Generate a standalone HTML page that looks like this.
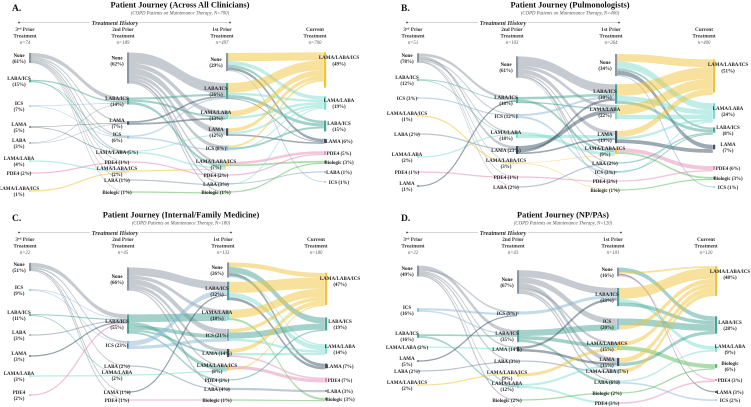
<!DOCTYPE html>
<html><head><meta charset="utf-8">
<style>
html,body{margin:0;padding:0;background:#fff;}
svg{display:block;font-family:"Liberation Serif",serif;}
.lbl{font-size:5px;font-weight:bold;fill:#222;}
.hdr{font-size:5.2px;font-weight:bold;fill:#333;}
.nn{font-size:4.8px;font-style:italic;fill:#555;}
.ttl{font-size:8.4px;font-weight:bold;fill:#111;}
.sub{font-size:4.8px;font-style:italic;fill:#555;}
.th{font-size:6.2px;font-style:italic;font-weight:bold;fill:#333;}
.let{font-size:9.5px;font-weight:bold;fill:#111;}
</style></head>
<body>
<svg id="chart" width="751" height="407" viewBox="0 0 751 407"></svg>
<script>
// ===== Panel A data =====
const A_title = "Patient Journey (Across All Clinicians)";
const A_N = 700;
const A_n = [74, 189, 497, 700];
const A_names = [
 ["None","LABA/ICS","ICS","LAMA","LABA","LAMA/LABA","PDE4","LAMA/LABA/ICS"],
 ["None","LABA/ICS","LAMA","ICS","LAMA/LABA","PDE4","LAMA/LABA/ICS","LABA","Biologic"],
 ["None","LABA/ICS","LAMA/LABA","LAMA","ICS","LAMA/LABA/ICS","PDE4","LABA","Biologic"],
 ["LAMA/LABA/ICS","LAMA/LABA","LABA/ICS","LAMA","PDE4","Biologic","LABA","ICS"]];
const A_pcts = [[61,15,7,5,3,4,2,1],[62,14,7,6,5,1,2,1,1],[29,26,13,12,8,7,2,3,1],[49,19,15,6,5,3,1,1]];
const A_links = [
 [0,"None","LABA/ICS",40],[0,"None","LAMA",15],[0,"None","ICS",15],[0,"None","LAMA/LABA",10],[0,"None","PDE4",5],[0,"None","LAMA/LABA/ICS",5],[0,"None","LABA",5],[0,"None","Biologic",5],
 [0,"LABA/ICS","LABA/ICS",50],[0,"LABA/ICS","LAMA/LABA",30],[0,"LABA/ICS","ICS",20],[0,"ICS","LABA/ICS",60],[0,"ICS","ICS",40],
 [0,"LAMA","LAMA",50],[0,"LAMA","LAMA/LABA",50],[0,"LABA","LABA/ICS",50],[0,"LABA","LAMA",50],[0,"LAMA/LABA","LAMA/LABA/ICS",100],[0,"PDE4","PDE4",100],[0,"LAMA/LABA/ICS","LAMA/LABA/ICS",100],
 [1,"None","LABA/ICS",35],[1,"None","LAMA/LABA",15],[1,"None","LAMA",20],[1,"None","ICS",12],[1,"None","LAMA/LABA/ICS",8],[1,"None","LABA",4],[1,"None","PDE4",3],[1,"None","Biologic",3],
 [1,"LABA/ICS","LABA/ICS",30],[1,"LABA/ICS","LAMA/LABA",30],[1,"LABA/ICS","LAMA/LABA/ICS",40],[1,"LAMA","LABA/ICS",50],[1,"LAMA","LAMA/LABA",50],[1,"ICS","LABA/ICS",50],[1,"ICS","ICS",50],
 [1,"LAMA/LABA","LAMA",40],[1,"LAMA/LABA","LAMA/LABA/ICS",60],[1,"PDE4","PDE4",100],[1,"LAMA/LABA/ICS","LAMA/LABA/ICS",100],[1,"LABA","LABA",100],[1,"Biologic","Biologic",100],
 [2,"None","LAMA/LABA/ICS",45],[2,"None","LAMA/LABA",20],[2,"None","LABA/ICS",15],[2,"None","LAMA",15],[2,"None","ICS",5],
 [2,"LABA/ICS","LAMA/LABA/ICS",60],[2,"LABA/ICS","LAMA/LABA",15],[2,"LABA/ICS","LABA/ICS",20],[2,"LABA/ICS","LAMA",5],
 [2,"LAMA/LABA","LAMA/LABA/ICS",70],[2,"LAMA/LABA","LAMA/LABA",30],[2,"LAMA","LAMA/LABA/ICS",50],[2,"LAMA","LAMA/LABA",30],[2,"LAMA","LAMA",20],
 [2,"ICS","LAMA/LABA/ICS",40],[2,"ICS","LABA/ICS",40],[2,"ICS","LAMA/LABA",20],[2,"LAMA/LABA/ICS","PDE4",60],[2,"LAMA/LABA/ICS","Biologic",40],
 [2,"PDE4","PDE4",100],[2,"LABA","LABA",50],[2,"LABA","LAMA/LABA",50],[2,"Biologic","Biologic",100]];

// ===== Panel B data =====
const B_title = "Patient Journey (Pulmonologists)";
const B_N = 400;
const B_n = [51, 103, 264, 400];
const B_names = [
 ["None","LABA/ICS","ICS","LAMA/LABA/ICS","LABA","LAMA/LABA","PDE4","LAMA"],
 ["None","LABA/ICS","ICS","LAMA/LABA","LAMA","LAMA/LABA/ICS","PDE4","LABA"],
 ["None","LABA/ICS","LAMA/LABA","LAMA","LAMA/LABA/ICS","LABA","ICS","PDE4","Biologic"],
 ["LAMA/LABA/ICS","LAMA/LABA","LABA/ICS","LAMA","PDE4","Biologic","ICS"]];
const B_pcts = [[78,12,3,1,2,2,1,1],[61,18,12,18,23,3,1,2],[34,30,22,19,9,2,3,2,1],[51,24,8,7,6,3,1]];
const B_links = [
 [0,"None","LABA/ICS",30],[0,"None","LAMA",30],[0,"None","ICS",10],[0,"None","LAMA/LABA",15],[0,"None","LAMA/LABA/ICS",5],[0,"None","PDE4",5],[0,"None","LABA",5],
 [0,"LABA/ICS","LABA/ICS",60],[0,"LABA/ICS","LAMA/LABA",40],[0,"ICS","ICS",100],[0,"LAMA/LABA/ICS","LAMA/LABA/ICS",100],[0,"LABA","LAMA",100],[0,"LAMA/LABA","LAMA/LABA",100],[0,"PDE4","PDE4",100],[0,"LAMA","LABA/ICS",100],
 [1,"None","LABA/ICS",45],[1,"None","LAMA/LABA",15],[1,"None","LAMA",20],[1,"None","LAMA/LABA/ICS",8],[1,"None","ICS",5],[1,"None","LABA",4],[1,"None","PDE4",3],
 [1,"LABA/ICS","LABA/ICS",40],[1,"LABA/ICS","LAMA/LABA/ICS",40],[1,"LABA/ICS","LAMA/LABA",20],[1,"ICS","LABA/ICS",50],[1,"ICS","ICS",50],
 [1,"LAMA/LABA","LAMA/LABA/ICS",50],[1,"LAMA/LABA","LAMA",50],[1,"LAMA","LAMA/LABA",50],[1,"LAMA","LABA/ICS",30],[1,"LAMA","LAMA",20],
 [1,"LAMA/LABA/ICS","LAMA/LABA/ICS",50],[1,"LAMA/LABA/ICS","Biologic",50],[1,"PDE4","PDE4",100],[1,"LABA","LABA",100],
 [2,"None","LAMA/LABA/ICS",35],[2,"None","LAMA/LABA",30],[2,"None","LABA/ICS",10],[2,"None","LAMA",20],[2,"None","ICS",5],
 [2,"LABA/ICS","LAMA/LABA/ICS",60],[2,"LABA/ICS","LAMA/LABA",25],[2,"LABA/ICS","LABA/ICS",15],
 [2,"LAMA/LABA","LAMA/LABA/ICS",70],[2,"LAMA/LABA","LAMA/LABA",30],[2,"LAMA","LAMA/LABA/ICS",50],[2,"LAMA","LAMA/LABA",20],[2,"LAMA","LAMA",30],
 [2,"LAMA/LABA/ICS","PDE4",70],[2,"LAMA/LABA/ICS","Biologic",30],[2,"LABA","LABA/ICS",100],[2,"ICS","LABA/ICS",50],[2,"ICS","LAMA/LABA",50],[2,"PDE4","PDE4",100],[2,"Biologic","Biologic",100]];

// ===== Panel C data =====
const C_title = "Patient Journey (Internal/Family Medicine)";
const C_N = 180;
const C_n = [22, 45, 133, 180];
const C_names = [
 ["None","ICS","LABA/ICS","LABA","LAMA","LAMA/LABA","PDE4"],
 ["None","LABA/ICS","ICS","LABA","LAMA/LABA","LAMA","PDE4"],
 ["None","LABA/ICS","LAMA/LABA","ICS","LAMA","LAMA/LABA/ICS","PDE4","LABA","Biologic"],
 ["LAMA/LABA/ICS","LABA/ICS","LAMA/LABA","LAMA","PDE4","LABA","Biologic"]];
const C_pcts = [[51,9,11,3,3,3,2],[66,55,23,2,2,1,1],[26,32,18,21,14,8,2,4,1],[47,19,14,7,7,3,3]];
const C_links = [
 [0,"None","LABA/ICS",50],[0,"None","ICS",20],[0,"None","LAMA",10],[0,"None","LABA",10],[0,"None","PDE4",10],
 [0,"ICS","LABA/ICS",50],[0,"ICS","ICS",50],[0,"LABA/ICS","LABA/ICS",60],[0,"LABA/ICS","LAMA/LABA",40],[0,"LABA","LABA/ICS",100],[0,"LAMA","LABA/ICS",100],[0,"LAMA/LABA","LAMA/LABA",100],[0,"PDE4","LABA/ICS",100],
 [1,"None","LABA/ICS",35],[1,"None","LAMA/LABA",15],[1,"None","ICS",25],[1,"None","LAMA",15],[1,"None","LAMA/LABA/ICS",5],[1,"None","LABA",5],
 [1,"LABA/ICS","LAMA/LABA",40],[1,"LABA/ICS","LAMA/LABA/ICS",20],[1,"LABA/ICS","ICS",20],[1,"LABA/ICS","LAMA",10],[1,"LABA/ICS","PDE4",10],
 [1,"ICS","LABA/ICS",60],[1,"ICS","ICS",40],[1,"LABA","LABA",100],[1,"LAMA/LABA","LAMA/LABA/ICS",100],[1,"LAMA","LABA/ICS",100],[1,"PDE4","Biologic",100],
 [2,"None","LAMA/LABA/ICS",30],[2,"None","LABA/ICS",40],[2,"None","LAMA",20],[2,"None","LAMA/LABA",10],
 [2,"LABA/ICS","LAMA/LABA/ICS",60],[2,"LABA/ICS","LAMA/LABA",25],[2,"LABA/ICS","LAMA",15],
 [2,"LAMA/LABA","LAMA/LABA/ICS",80],[2,"LAMA/LABA","Biologic",20],[2,"ICS","LAMA/LABA/ICS",30],[2,"ICS","LABA/ICS",50],[2,"ICS","LAMA/LABA",20],
 [2,"LAMA","LAMA/LABA/ICS",50],[2,"LAMA","LAMA/LABA",30],[2,"LAMA","PDE4",20],[2,"LAMA/LABA/ICS","PDE4",70],[2,"LAMA/LABA/ICS","LAMA/LABA/ICS",30],
 [2,"PDE4","LABA/ICS",100],[2,"LABA","LABA",100],[2,"Biologic","Biologic",100]];

// ===== Panel D data =====
const D_title = "Patient Journey (NP/PAs)";
const D_N = 120;
const D_n = [22, 43, 101, 120];
const D_names = [
 ["None","ICS","LABA/ICS","LAMA/LABA","LAMA","LABA","LAMA/LABA/ICS"],
 ["None","ICS","LABA/ICS","LAMA","LABA","LAMA/LABA/ICS","LAMA/LABA","Biologic"],
 ["None","LABA/ICS","ICS","LAMA/LABA/ICS","LAMA","LAMA/LABA","LABA","Biologic","PDE4"],
 ["LAMA/LABA/ICS","LABA/ICS","LAMA/LABA","Biologic","PDE4","LAMA","ICS"]];
const D_pcts = [[49,16,16,2,5,2,2],[67,9,35,14,3,9,12,2],[16,33,20,15,15,7,6,2,3],[48,28,9,6,3,3,2]];
const D_links = [
 [0,"None","LABA/ICS",35],[0,"None","ICS",15],[0,"None","LAMA",15],[0,"None","LABA",10],[0,"None","LAMA/LABA",15],[0,"None","Biologic",10],
 [0,"ICS","ICS",60],[0,"ICS","LABA/ICS",40],[0,"LABA/ICS","LABA/ICS",50],[0,"LABA/ICS","LAMA/LABA",50],[0,"LAMA/LABA","LAMA",100],[0,"LAMA","ICS",100],[0,"LABA","LABA",100],[0,"LAMA/LABA/ICS","LAMA/LABA/ICS",100],
 [1,"None","LABA/ICS",30],[1,"None","ICS",25],[1,"None","LAMA",20],[1,"None","LAMA/LABA/ICS",10],[1,"None","LAMA/LABA",10],[1,"None","LABA",5],
 [1,"ICS","LABA/ICS",100],[1,"LABA/ICS","ICS",50],[1,"LABA/ICS","LAMA/LABA/ICS",30],[1,"LABA/ICS","LABA",20],[1,"LAMA","LABA/ICS",50],[1,"LAMA","LAMA",50],
 [1,"LABA","LAMA/LABA",100],[1,"LAMA/LABA/ICS","LAMA/LABA/ICS",100],[1,"LAMA/LABA","LAMA",50],[1,"LAMA/LABA","PDE4",50],[1,"Biologic","Biologic",100],
 [2,"None","LABA/ICS",50],[2,"None","LAMA/LABA/ICS",20],[2,"None","LAMA",15],[2,"None","PDE4",15],
 [2,"LABA/ICS","LAMA/LABA/ICS",60],[2,"LABA/ICS","LAMA/LABA",20],[2,"LABA/ICS","LABA/ICS",20],[2,"ICS","LABA/ICS",60],[2,"ICS","LAMA/LABA/ICS",40],
 [2,"LAMA/LABA/ICS","LAMA/LABA/ICS",50],[2,"LAMA/LABA/ICS","Biologic",50],[2,"LAMA","LAMA/LABA/ICS",60],[2,"LAMA","LABA/ICS",40],
 [2,"LAMA/LABA","LAMA/LABA/ICS",100],[2,"LABA","LAMA/LABA",50],[2,"LABA","ICS",50],[2,"Biologic","Biologic",100],[2,"PDE4","PDE4",100]];

// ===== Layout (positions, not data) =====
const A_layout = {ox:0, oy:0, barX:[30,128,227,325], scale:[0.165,0.5,0.62,0.72], dy:0, tx:180, letX:12, thX:115,
 yc:[[58,81,106,127,143,161,173,191],[68,101,123,137,152,162,171,180,192],[62,91,115,132,148,164,175,184,192],[70,103,126,141,153,162,172,182]],
 one:["0:6","1:4","1:5","1:7","1:8","2:4","2:6","2:7","2:8","3:3","3:4","3:5","3:6","3:7"]};
const B_layout = {ox:375, oy:0, barX:[43,142,241,339], scale:[0.12,0.35,0.65,0.65], dy:0, tx:195, letX:26, thX:128,
 yc:[[58,80,98,116,134,157,172,186],[67,100,116,135,150,163,177,187],[65,94,112,137,151,163,172,181,190],[76,111,130,147,168,178,187]],
 one:["0:2","0:4","0:6","1:2","1:4","1:6","1:7","2:5","2:6","2:7","2:8","3:4","3:5","3:6"]};
const C_layout = {ox:0, oy:203, barX:[30,128,228,326], scale:[0.16,0.35,0.58,0.68], dy:7, tx:181, letX:12, thX:115,
 yc:[[64,87,112,132,153,173,192],[76,121,142,163,172,189,197],[67,88,112,132,150,165,177,186,197],[86,121,146,163,177,188,196]],
 one:["1:2","1:3","1:5","1:6","2:3","2:4","2:6","2:7","2:8","3:3","3:4","3:5","3:6"]};
const D_layout = {ox:375, oy:203, barX:[43,143,243,341], scale:[0.22,0.35,0.55,0.62], dy:7, tx:188, letX:26, thX:128,
 yc:[[68,107,133,144,158,168,182],[79,110,133,146,158,172,183,197],[69,94,121,143,159,168,179,190,200],[78,122,146,163,177,189,197]],
 one:["0:3","0:5","1:1","1:3","1:4","1:7","2:5","2:6","2:7","2:8","3:4","3:5","3:6"]};

const COLORS = {"None":"#8d97a3","LABA/ICS":"#4aa596","ICS":"#8db7d6","LAMA":"#3e5465","LABA":"#7f95ab",
 "LAMA/LABA":"#7fdcd0","PDE4":"#e48db8","LAMA/LABA/ICS":"#f0c43a","Biologic":"#5cbc5c"};

const NS = "http://www.w3.org/2000/svg";
const svg = document.getElementById("chart");
function mk(tag, attrs, parent){ const e=document.createElementNS(NS,tag); for(const k in attrs) e.setAttribute(k,attrs[k]); parent.appendChild(e); return e; }
function slug(s){ return s.toLowerCase().replace(/[^a-z0-9]+/g,"-").replace(/^-|-$/g,""); }

function drawPanel(key, title, N, nArr, names, pcts, links, L){
  const g = mk("g",{transform:`translate(${L.ox},${L.oy})`}, svg);
  
  
  const d = L.dy;
  const let_ = mk("text",{x:L.letX,y:11+d,class:"let"},g); let_.textContent = key+".";
  
  
  const t = mk("text",{x:L.tx,y:7.5+d,class:"ttl","text-anchor":"middle"},g); t.textContent = title;
  
  
  const st = mk("text",{x:L.tx,y:14.5+d,class:"sub","text-anchor":"middle"},g); st.textContent = `(COPD Patients on Maintenance Therapy, N=${N})`;
  
  
  const th = mk("text",{x:L.thX,y:25+d,class:"th","text-anchor":"middle"},g); th.textContent = "Treatment History";
  
  
  const a1 = mk("line",{x1:L.barX[0]-11,y1:22.5+d,x2:L.thX-25,y2:22.5+d,stroke:"#aaa","stroke-width":0.6},g);
  
  
  const a2 = mk("line",{x1:L.thX+25,y1:22.5+d,x2:L.barX[2]+3,y2:22.5+d,stroke:"#aaa","stroke-width":0.6},g);
  
  
  mk("circle",{cx:L.barX[0]-11,cy:22.5+d,r:0.9,fill:"#444"},g);
  mk("circle",{cx:L.barX[2]+3,cy:22.5+d,r:0.9,fill:"#444"},g);
  const hdrs = [["3rd Prior","Treatment"],["2nd Prior","Treatment"],["1st Prior","Treatment"],["Current","Treatment"]];
  for(let c=0;c<4;c++){
    const hx = L.barX[c] - (c===3?10:5);
    const h = mk("text",{x:hx,y:31+d,class:"hdr","text-anchor":"middle"},g);
    
    
    if(c===0){ h.innerHTML = '3<tspan font-size="3.5" dy="-1.5">rd</tspan><tspan dy="1.5"> Prior</tspan>'; }
    else h.textContent = hdrs[c][0];
    const h2 = mk("text",{x:hx,y:37.5+d,class:"hdr","text-anchor":"middle"},g); h2.textContent = hdrs[c][1];
    const h3 = mk("text",{x:hx,y:44+d,class:"nn","text-anchor":"middle"},g); h3.textContent = "n="+nArr[c];
    
    
  }
  const nodes = names.map((col,c)=>col.map((nm,i)=>{
    const h = Math.max(1.2, pcts[c][i]*L.scale[c]);
    return {name:nm, pct:pcts[c][i], h:h, top:L.yc[c][i]-h/2, outOff:0, inOff:0};
  }));
  const linkG = mk("g",{},g);
  
  
  for(const lk of links){
    const c = lk[0];
    const si = names[c].indexOf(lk[1]); const ti = names[c+1].indexOf(lk[2]);
    if(si<0||ti<0) continue;
    const s = nodes[c][si], tN = nodes[c+1][ti];
    const w = s.h * lk[3]/100;
    const x0 = L.barX[c]+1.2, x1 = L.barX[c+1]-1.2, xm=(x0+x1)/2;
    const y0 = s.top + s.outOff, y1 = tN.top + tN.inOff;
    s.outOff += w; tN.inOff += w;
    const col = (c===2) ? COLORS[lk[2]] : COLORS[lk[1]];
    let p;
    if(w < 1.3){
      p = mk("path",{d:`M${x0},${y0+w/2} C${xm},${y0+w/2} ${xm},${y1+w/2} ${x1},${y1+w/2}`,fill:"none",stroke:col,"stroke-width":Math.max(0.6,w),"stroke-opacity":0.55},linkG);
    } else {
      p = mk("path",{d:`M${x0},${y0} C${xm},${y0} ${xm},${y1} ${x1},${y1} L${x1},${y1+w} C${xm},${y1+w} ${xm},${y0+w} ${x0},${y0+w} Z`,fill:col,"fill-opacity":0.5},linkG);
    }
    
    
  }
  for(let c=0;c<4;c++){
    nodes[c].forEach((n,i)=>{
      const r = mk("rect",{x:L.barX[c]-1,y:n.top,width:2.2,height:n.h,fill:COLORS[n.name]},g);
      
      
      const one = L.one.indexOf(c+":"+i) >= 0;
      const lx = c===3 ? L.barX[c]+14 : L.barX[c]-11;
      let ly = (n.h > 25) ? n.top+8 : n.top+n.h/2;
      const tx = mk("text",{x:lx,class:"lbl","text-anchor":"middle"},g);
      
      
      if(one){
        tx.setAttribute("y", ly+2);
        tx.textContent = n.name+" ("+n.pct+"%)";
      } else {
        tx.setAttribute("y", ly-1.2);
        const s1 = mk("tspan",{x:lx},tx); s1.textContent = n.name;
        const s2 = mk("tspan",{x:lx,dy:6.3},tx); s2.textContent = "("+n.pct+"%)";
      }
    });
  }
}
drawPanel("A", A_title, A_N, A_n, A_names, A_pcts, A_links, A_layout);
drawPanel("B", B_title, B_N, B_n, B_names, B_pcts, B_links, B_layout);
drawPanel("C", C_title, C_N, C_n, C_names, C_pcts, C_links, C_layout);
drawPanel("D", D_title, D_N, D_n, D_names, D_pcts, D_links, D_layout);
</script>
</body></html>
